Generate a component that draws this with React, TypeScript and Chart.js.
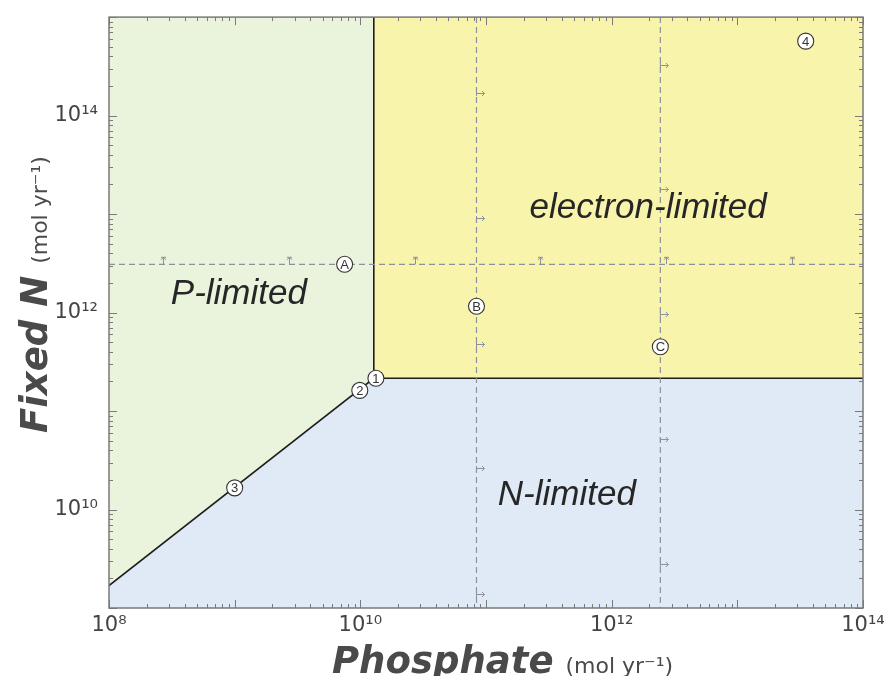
import React, { useEffect, useRef } from "react";
import { Chart, registerables } from "chart.js";

Chart.register(...registerables);

// ---------- axes ----------
const X_MIN = 1e8;
const X_MAX = 1e14;
const Y_MIN = 1e9;
const Y_MAX = 1e15;
const xLabelExponents = [8, 10, 12, 14];
const yLabelExponents = [10, 12, 14];

// ---------- regime regions ----------
const pRegionX = [1e8, 1.28e10, 1.28e10];
const pRegionY = [1.69e9, 2.15e11, 1e15];
const eRegionX = [1.28e10, 1.28e10, 1e14];
const eRegionY = [1e15, 2.15e11, 2.15e11];
const nRegionX = [1e8, 1.28e10, 1e14];
const nRegionY = [1.69e9, 2.15e11, 2.15e11];

// ---------- boundary lines ----------
const boundaryX = [1e8, 1.28e10, 1e14];
const boundaryY = [1.69e9, 2.15e11, 2.15e11];
const vBoundaryX = [1.28e10, 1.28e10];
const vBoundaryY = [1e15, 2.15e11];

// ---------- dashed transects ----------
const dashA_Y = 3.09e12; // horizontal through A
const dashB_X = 8.4e10; // vertical through B
const dashC_X = 2.44e12; // vertical through C
const markA_X = [2.7e8, 2.7e9, 2.7e10, 2.7e11, 2.7e12, 2.7e13];
const markB_Y = [1.71e14, 9.1e12, 4.83e11, 2.63e10, 1.4e9];
const markC_Y = [3.27e14, 1.78e13, 9.7e11, 5.16e10, 2.81e9];

// ---------- labelled points ----------
const pointLabels = ["A", "B", "C", "1", "2", "3", "4"];
const pointX = [7.5e9, 8.4e10, 2.44e12, 1.33e10, 9.9e9, 1.0e9, 3.5e13];
const pointY = [3.09e12, 1.16e12, 4.5e11, 2.15e11, 1.62e11, 1.66e10, 5.7e14];

// ---------- region names ----------
const regionLabels = ["P-limited", "electron-limited", "N-limited"];
const regionLabelX = [1.08e9, 1.95e12, 4.4e11];
const regionLabelY = [1.21e12, 9.1e12, 1.11e10];

const SUP = "⁰¹²³⁴⁵⁶⁷⁸⁹";
const sup = (n: number) =>
  String(n)
    .split("")
    .map((d) => SUP[Number(d)])
    .join("");

const zip = (xs: number[], ys: number[]) => xs.map((x, i) => ({ x, y: ys[i] }));

function logTicks(minExp: number, maxExp: number) {
  const out: { value: number }[] = [];
  for (let e = minExp; e < maxExp; e++) {
    for (let k = 1; k <= 9; k++) out.push({ value: k * Math.pow(10, e) });
  }
  out.push({ value: Math.pow(10, maxExp) });
  return out;
}

function labelFor(value: number, allowed: number[]) {
  const e = Math.round(Math.log10(value));
  if (Math.abs(value / Math.pow(10, e) - 1) > 1e-6) return "";
  return allowed.includes(e) ? "10" + sup(e) : "";
}

const isMajor = (v: number) => {
  const e = Math.round(Math.log10(v));
  return Math.abs(v / Math.pow(10, e) - 1) < 1e-6;
};

const AXIS_COLOR = "#7a7a7a";
const DASH_COLOR = "#8d919f";
const TICK_FONT = "'DejaVu Sans', sans-serif";

const decorPlugin = {
  id: "decor",
  afterDatasetsDraw(chart: any) {
    const { ctx, chartArea: ca, scales } = chart;
    const xs = scales.x;
    const ys = scales.y;
    ctx.save();

    // transect arrow marks
    ctx.strokeStyle = DASH_COLOR;
    ctx.lineWidth = 1;
    const yA = ys.getPixelForValue(dashA_Y);
    markA_X.forEach((v) => {
      const px = Math.round(xs.getPixelForValue(v)) + 0.5;
      ctx.beginPath();
      ctx.moveTo(px, yA);
      ctx.lineTo(px, yA - 7);
      ctx.moveTo(px - 2.5, yA - 4.5);
      ctx.lineTo(px, yA - 7);
      ctx.lineTo(px + 2.5, yA - 4.5);
      ctx.moveTo(px - 2.5, yA - 7);
      ctx.lineTo(px + 2.5, yA - 7);
      ctx.stroke();
    });
    const drawRight = (xv: number, yv: number) => {
      const px = xs.getPixelForValue(xv);
      const py = Math.round(ys.getPixelForValue(yv)) + 0.5;
      ctx.beginPath();
      ctx.moveTo(px, py - 2.5);
      ctx.lineTo(px, py + 2.5);
      ctx.moveTo(px, py);
      ctx.lineTo(px + 8, py);
      ctx.moveTo(px + 5.5, py - 2.5);
      ctx.lineTo(px + 8, py);
      ctx.lineTo(px + 5.5, py + 2.5);
      ctx.stroke();
    };
    markB_Y.forEach((v) => drawRight(dashB_X, v));
    markC_Y.forEach((v) => drawRight(dashC_X, v));

    // ticks on all four sides (inward)
    ctx.strokeStyle = AXIS_COLOR;
    ctx.lineWidth = 1;
    ctx.beginPath();
    xs.ticks.forEach((t: any) => {
      const px = Math.round(xs.getPixelForValue(t.value)) + 0.5;
      const len = isMajor(t.value) ? 8 : 4;
      ctx.moveTo(px, ca.bottom);
      ctx.lineTo(px, ca.bottom - len);
      ctx.moveTo(px, ca.top);
      ctx.lineTo(px, ca.top + len);
    });
    ys.ticks.forEach((t: any) => {
      const py = Math.round(ys.getPixelForValue(t.value)) + 0.5;
      const len = isMajor(t.value) ? 8 : 4;
      ctx.moveTo(ca.left, py);
      ctx.lineTo(ca.left + len, py);
      ctx.moveTo(ca.right, py);
      ctx.lineTo(ca.right - len, py);
    });
    ctx.stroke();

    // frame
    ctx.lineWidth = 1.5;
    ctx.strokeRect(ca.left, ca.top, ca.right - ca.left, ca.bottom - ca.top);

    // circle labels
    ctx.fillStyle = "#333";
    ctx.font = "13px 'Liberation Sans', Arial, sans-serif";
    ctx.textAlign = "center";
    ctx.textBaseline = "middle";
    pointLabels.forEach((s, i) => {
      ctx.fillText(s, xs.getPixelForValue(pointX[i]), ys.getPixelForValue(pointY[i]) + 1);
    });

    // region labels
    ctx.fillStyle = "#262626";
    ctx.font = "italic 35px 'Liberation Sans', Arial, sans-serif";
    ctx.textBaseline = "alphabetic";
    regionLabels.forEach((s, i) => {
      ctx.fillText(s, xs.getPixelForValue(regionLabelX[i]), ys.getPixelForValue(regionLabelY[i]));
    });
    ctx.restore();
  },
  afterDraw(chart: any) {
    const { ctx, chartArea: ca } = chart;
    ctx.save();
    ctx.fillStyle = "#4a4a4a";
    ctx.textAlign = "left";
    ctx.textBaseline = "alphabetic";
    const big = "italic bold 37px 'DejaVu Sans', sans-serif";
    const small = "22px 'DejaVu Sans', sans-serif";

    // x title
    ctx.font = big;
    const x0 = ca.left + 223;
    const yb = ca.bottom + 65;
    ctx.fillText("Phosphate", x0, yb);
    const w1 = ctx.measureText("Phosphate").width;
    ctx.font = small;
    ctx.fillText("(mol yr⁻¹)", x0 + w1 + 12, yb);

    // y title
    ctx.translate(39, ca.top + 416);
    ctx.rotate(-Math.PI / 2);
    ctx.font = big;
    ctx.fillText("Fixed N", 0, 0);
    const w2 = ctx.measureText("Fixed N").width;
    ctx.font = small;
    ctx.fillText("(mol yr⁻¹)", w2 + 12, 0);
    ctx.restore();
  },
};

export default function App() {
  const ref = useRef<HTMLCanvasElement | null>(null);

  useEffect(() => {
    if (!ref.current) return;
    const lineBase = { pointRadius: 0, tension: 0 };
    const chart = new Chart(ref.current, {
      type: "line",
      data: {
        datasets: [
          {
            label: "points",
            data: zip(pointX, pointY),
            showLine: false,
            pointRadius: 8,
            pointHoverRadius: 8,
            pointBackgroundColor: "#ffffff",
            pointBorderColor: "#333333",
            pointBorderWidth: 1.1,
          },
          {
            label: "transect A",
            data: [
              { x: X_MIN, y: dashA_Y },
              { x: X_MAX, y: dashA_Y },
            ],
            ...lineBase,
            borderColor: DASH_COLOR,
            borderWidth: 1.2,
            borderDash: [6, 4],
          },
          {
            label: "transect B",
            data: [
              { x: dashB_X, y: Y_MAX },
              { x: dashB_X, y: Y_MIN },
            ],
            ...lineBase,
            borderColor: DASH_COLOR,
            borderWidth: 1.2,
            borderDash: [6, 4],
          },
          {
            label: "transect C",
            data: [
              { x: dashC_X, y: Y_MAX },
              { x: dashC_X, y: Y_MIN },
            ],
            ...lineBase,
            borderColor: DASH_COLOR,
            borderWidth: 1.2,
            borderDash: [6, 4],
          },
          {
            label: "boundary",
            data: zip(boundaryX, boundaryY),
            ...lineBase,
            borderColor: "#1e1e1e",
            borderWidth: 1.6,
          },
          {
            label: "boundary v",
            data: zip(vBoundaryX, vBoundaryY),
            ...lineBase,
            borderColor: "#1e1e1e",
            borderWidth: 1.6,
          },
          {
            label: "P-limited",
            data: zip(pRegionX, pRegionY),
            ...lineBase,
            borderColor: "transparent",
            borderWidth: 0,
            fill: "end",
            backgroundColor: "#eaf3dc",
          },
          {
            label: "electron-limited",
            data: zip(eRegionX, eRegionY),
            ...lineBase,
            borderColor: "transparent",
            borderWidth: 0,
            fill: "end",
            backgroundColor: "#f9f4ab",
          },
          {
            label: "N-limited",
            data: zip(nRegionX, nRegionY),
            ...lineBase,
            borderColor: "transparent",
            borderWidth: 0,
            fill: "start",
            backgroundColor: "#e0eaf6",
          },
        ],
      },
      options: {
        animation: false,
        responsive: true,
        maintainAspectRatio: false,
        events: [],
        layout: { padding: { top: 5, right: 24, left: 0, bottom: 0 } },
        plugins: { legend: { display: false }, tooltip: { enabled: false } },
        scales: {
          x: {
            type: "logarithmic",
            min: X_MIN,
            max: X_MAX,
            grid: { display: false, drawTicks: false },
            border: { display: false },
            afterBuildTicks: (s: any) => {
              s.ticks = logTicks(8, 14);
            },
            afterFit: (s: any) => {
              s.height = 76;
              s.paddingLeft = 0;
              s.paddingRight = 0;
            },
            ticks: {
              autoSkip: false,
              maxRotation: 0,
              padding: 5,
              color: "#444",
              font: { family: TICK_FONT, size: 21 },
              callback: (v: any) => labelFor(Number(v), xLabelExponents),
            },
          },
          y: {
            type: "logarithmic",
            min: Y_MIN,
            max: Y_MAX,
            grid: { display: false, drawTicks: false },
            border: { display: false },
            afterBuildTicks: (s: any) => {
              s.ticks = logTicks(9, 15);
            },
            afterFit: (s: any) => {
              s.width = 101;
              s.paddingTop = 0;
              s.paddingBottom = 0;
            },
            ticks: {
              autoSkip: false,
              padding: 11,
              color: "#444",
              font: { family: TICK_FONT, size: 21 },
              callback: (v: any) => labelFor(Number(v), yLabelExponents),
            },
          },
        },
      },
      plugins: [decorPlugin],
    } as any);
    return () => chart.destroy();
  }, []);

  return (
    <div style={{ width: 879, height: 676, marginBottom: -8, position: "relative" }}>
      <canvas ref={ref} />
    </div>
  );
}
